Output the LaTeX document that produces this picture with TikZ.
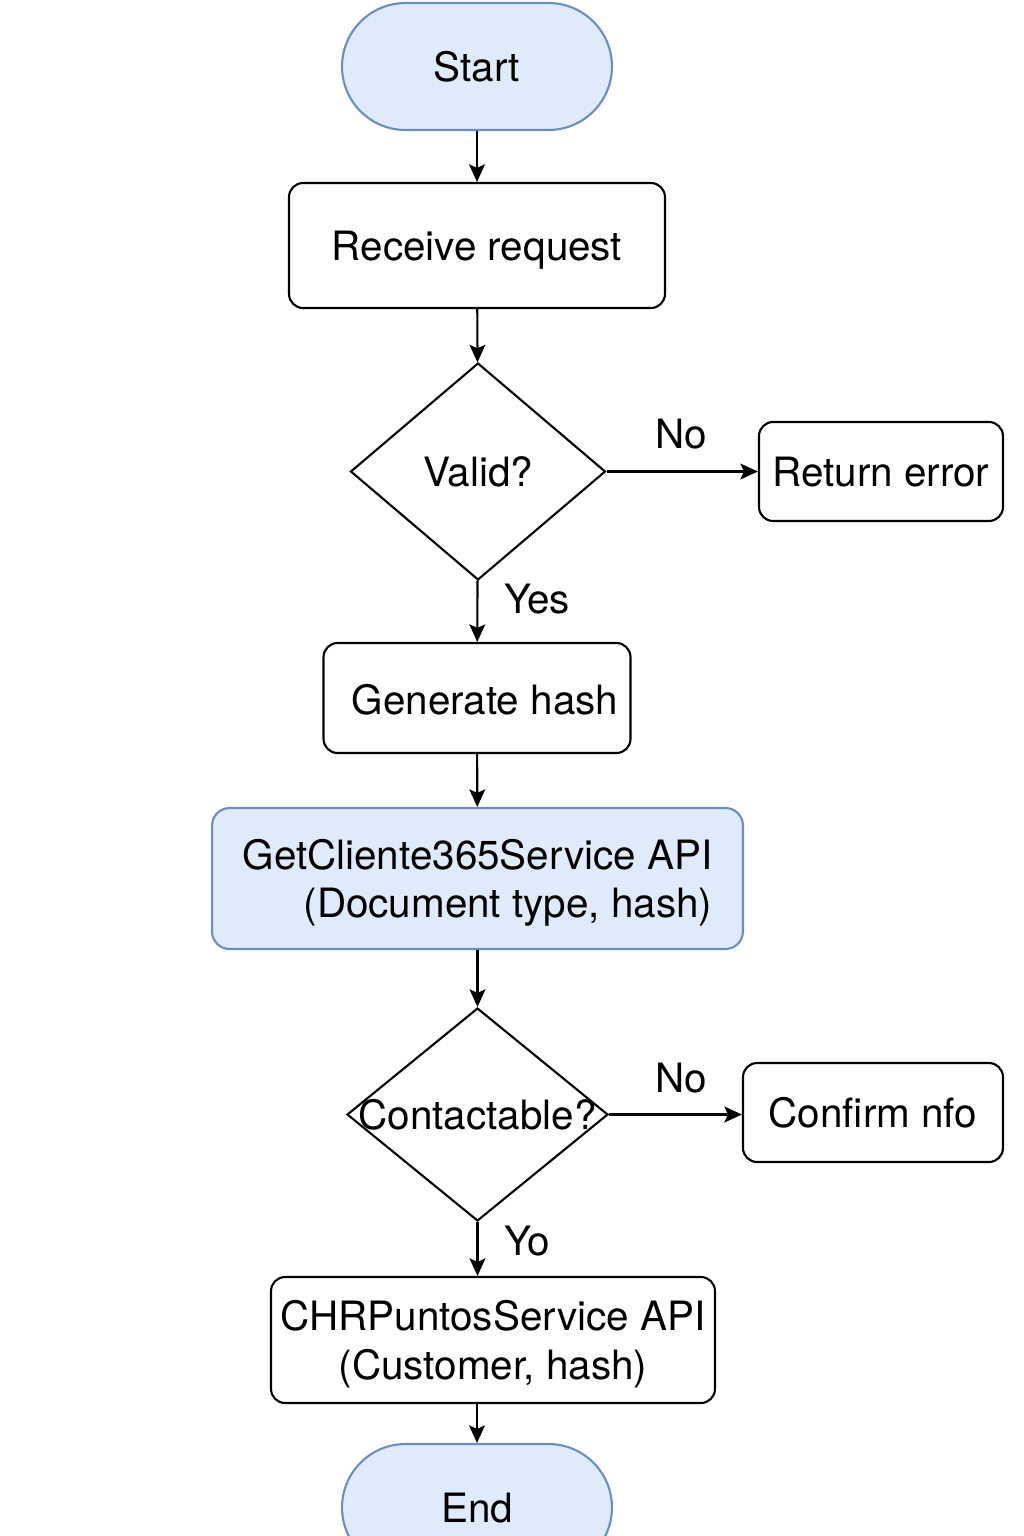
\documentclass[tikz,border=0pt]{standalone}
\usepackage{fontspec}
\setmainfont{TeX Gyre Heros}
\usetikzlibrary{shapes.geometric,arrows.meta}
\definecolor{termfill}{HTML}{DFEAFB}
\definecolor{termline}{HTML}{6C8EBF}

\begin{document}
\begin{tikzpicture}[x=0.02cm, y=-0.02cm]
\tikzset{
  every node/.append style = {font = \fontsize{23}{27.5}\selectfont,
                              text depth=0pt},
  terminal/.style = {draw=termline, fill=termfill, line width=1.2pt,
                     rounded corners=1.27cm, minimum width=5.4cm,
                     minimum height=2.54cm},
  process/.style = {draw, line width=1.2pt, rounded corners=0.28cm,
                    inner sep=0pt},
  apibox/.style = {process, draw=termline, fill=termfill,
                   rounded corners=0.35cm},
  decision/.style = {draw, diamond, line width=1.2pt, inner sep=0pt},
  arr/.style = {-{Stealth[length=10pt, width=9pt, inset=2pt]}, line width=1.2pt},
}
  \useasboundingbox (0,0) rectangle (1024,1536);

  % main column
  \node[terminal] (start) at (477,66.5) {Start};
  \node[process, minimum width=7.52cm, minimum height=2.5cm]
    (recv) at (477,245.5) {Receive request};
  \node[decision, minimum width=5.1cm, minimum height=4.34cm]
    (valid) at (478,471.5) {};
  \node (validtxt) at (valid) {Valid?};
  \node[process, minimum width=6.14cm, minimum height=2.2cm]
    (gen) at (477,698) {};
  \node (gentxt) at (485,699) {Generate hash};
  \node[apibox, minimum width=10.62cm, minimum height=2.82cm, align=left]
    (get) at (477.5,878.5)
    {GetCliente365Service API\\\hspace*{1.22cm}(Document type, hash)};
  \node[decision, minimum width=5.22cm, minimum height=4.26cm]
    (cont) at (477.5,1114.5) {};
  \node (conttxt) at (cont) {Contactable?};
  \node[process, minimum width=8.88cm, minimum height=2.52cm, align=center]
    (chr) at (493,1340) {CHRPuntosService API\\(Customer, hash)};
  \node[terminal] (endn) at (477,1507.5) {End};

  % side boxes
  \node[process, minimum width=4.88cm, minimum height=1.98cm]
    (err) at (881,471.5) {Return error};
  \node[process, minimum width=5.2cm, minimum height=1.98cm]
    (conf) at (873,1112.5) {Confirm nfo};

  % arrows
  \draw[arr] (start) -- (recv);
  \draw[arr] (recv) -- (valid);
  \draw[arr] (valid) -- (gen);
  \draw[arr] (gen) -- (get);
  \draw[arr] (get) -- (cont);
  \draw[arr] (cont.south) -- (cont.south |- chr.north);
  \draw[arr] (chr.south -| endn) -- (endn);
  \draw[arr] (valid.east) -- (err.west);
  \draw[arr] (cont.east) -- (cont.east -| conf.west);

  % branch labels
  \node (no1) at (681,434) {No};
  \node (yes1) at (537,599) {Yes};
  \node (no2) at (681,1078) {No};
  \node (yo2) at (527,1241) {Yo};

\end{tikzpicture}
\end{document}
